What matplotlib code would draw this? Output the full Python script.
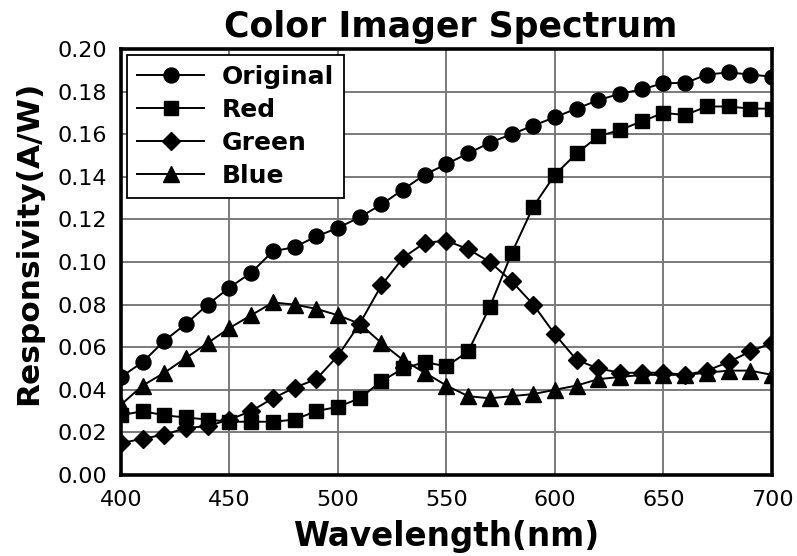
import numpy as np
import matplotlib
matplotlib.use("Agg")
import matplotlib.pyplot as plt

plt.rcParams["font.family"] = ["DejaVu Sans"]

# ── data ─────────────────────────────────────────────────────────────────
wavelength = list(range(400, 701, 10))

original = [0.046, 0.053, 0.063, 0.071, 0.080, 0.088, 0.095, 0.105, 0.107, 0.112,
            0.116, 0.121, 0.127, 0.134, 0.141, 0.146, 0.151, 0.156, 0.160, 0.164,
            0.168, 0.172, 0.176, 0.179, 0.181, 0.184, 0.184, 0.188, 0.189, 0.188,
            0.187]
red = [0.028, 0.030, 0.028, 0.027, 0.026, 0.025, 0.025, 0.025, 0.026, 0.030,
       0.032, 0.036, 0.044, 0.050, 0.053, 0.051, 0.058, 0.079, 0.104, 0.126,
       0.141, 0.151, 0.159, 0.162, 0.166, 0.170, 0.169, 0.173, 0.173, 0.172,
       0.172]
green = [0.015, 0.017, 0.019, 0.022, 0.023, 0.026, 0.030, 0.036, 0.041, 0.045,
         0.056, 0.071, 0.089, 0.102, 0.109, 0.110, 0.106, 0.100, 0.091, 0.080,
         0.066, 0.054, 0.050, 0.048, 0.048, 0.048, 0.047, 0.049, 0.053, 0.058,
         0.062]
blue = [0.033, 0.042, 0.048, 0.055, 0.062, 0.069, 0.075, 0.081, 0.080, 0.078,
        0.075, 0.071, 0.062, 0.054, 0.048, 0.042, 0.037, 0.036, 0.037, 0.038,
        0.040, 0.042, 0.045, 0.046, 0.047, 0.047, 0.047, 0.048, 0.049, 0.049,
        0.047]

series = [("Original", original, "o", 10.8),
          ("Red", red, "s", 10.0),
          ("Green", green, "D", 9.0),
          ("Blue", blue, "^", 11.5)]

xticks = [400, 450, 500, 550, 600, 650, 700]
yticks = [0.00, 0.02, 0.04, 0.06, 0.08, 0.10, 0.12, 0.14, 0.16, 0.18, 0.20]

# ── plot ─────────────────────────────────────────────────────────────────
fig = plt.figure(figsize=(7.97, 5.56), dpi=100)
ax = fig.add_axes([0.1518, 0.1457, 0.8168, 0.7662])

for name, vals, mk, ms in series:
    ax.plot(wavelength, vals, color="black", lw=1.4, marker=mk, ms=ms,
            mfc="black", mec="black", label=name, zorder=3)

ax.set_xlim(400, 700)
ax.set_ylim(0, 0.20)
ax.set_xticks(xticks)
ax.set_yticks(yticks)
ax.set_yticklabels([f"{v:.2f}" for v in yticks])
ax.grid(True, color="#7a7a7a", lw=1.4, zorder=0)
ax.set_axisbelow(True)
ax.tick_params(axis="both", length=0, labelsize=16)
ax.tick_params(axis="x", pad=11)
ax.tick_params(axis="y", pad=10)
for sp in ax.spines.values():
    sp.set_linewidth(2.6)

ax.set_xlabel("Wavelength(nm)", fontsize=23.5, fontweight="bold")
ax.xaxis.set_label_coords(0.5, -0.105)
ax.set_ylabel("Responsivity(A/W)", fontsize=22.5, fontweight="bold")
ax.yaxis.set_label_coords(-0.12, 0.545)
fig.text(451 / 797, 1 - 37 / 556, "Color Imager Spectrum", fontsize=25,
         fontweight="bold", ha="center", va="baseline")

leg = ax.legend(loc="upper left", prop={"weight": "bold", "size": 18},
                handlelength=2.7, handletextpad=0.7, labelspacing=0.36,
                borderpad=0.4, borderaxespad=0.24, fancybox=False,
                framealpha=1, edgecolor="black")
leg.get_frame().set_linewidth(1.3)

fig.savefig("out.png", dpi=100)
